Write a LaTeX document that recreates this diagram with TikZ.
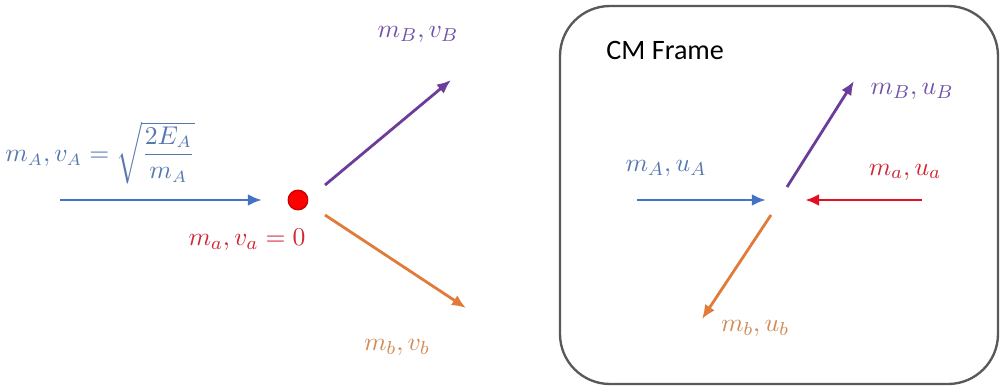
\documentclass[tikz,border=0pt]{standalone}
\usepackage{amsmath}
\usepackage{fontspec}
\newfontfamily\cmfont{Carlito}
\usetikzlibrary{arrows.meta}
\definecolor{cblue}{HTML}{4472C4}
\definecolor{cred}{HTML}{E01020}
\definecolor{cpurple}{HTML}{6A3D9A}
\definecolor{corange}{HTML}{E07B3A}
\definecolor{lblue}{HTML}{5677AE}
\definecolor{lred}{HTML}{D02535}
\definecolor{lpurple}{HTML}{7050A8}
\definecolor{lorange}{HTML}{D08A55}
\tikzset{
  vec/.style={line width=1.2pt,-{Latex[length=6pt,width=5pt]}},
  lbl/.style={inner sep=1pt,font=\fontsize{11.3}{13.6}\selectfont}
}
\begin{document}
\begin{tikzpicture}[x=0.015cm,y=-0.015cm]
\useasboundingbox (0,0) rectangle (1000,386);
% lab frame
\coordinate (bs) at (60,200);
\coordinate (be) at (262,200);
\node[circle,fill=red,draw=red!80!black,line width=0.6pt,minimum size=19.5*0.015cm,inner sep=0pt] (dot) at (298,200) {};
\coordinate (ps) at (325,185);
\coordinate (pe) at (451,80);
\coordinate (os) at (325,215);
\coordinate (oe) at (466,308);
\draw[vec,cblue] (bs) -- (be);
\draw[vec,cpurple] (ps) -- (pe);
\draw[vec,corange] (os) -- (oe);
\node[lbl,text=lblue,font=\fontsize{10.6}{12.7}\selectfont] (lA) at (100,153) {$m_A, v_A = \sqrt{\dfrac{2E_A}{m_A}}$};
\node[lbl,text=lred] (la) at (247,240) {$m_a, v_a = 0$};
\node[lbl,text=lpurple] (lB) at (418,34) {$m_B, v_B$};
\node[lbl,text=lorange] (lb) at (397,347) {$m_b, v_b$};
% CM frame
\node[draw=black!65,line width=1pt,rounded corners=50*0.015cm,minimum width=438*0.015cm,minimum height=378*0.015cm,inner sep=0pt] (frame) at (779,195) {};
\node[anchor=west,font=\cmfont\large,inner sep=0pt] (title) at (606,50) {CM Frame};
\coordinate (cbs) at (637,200);
\coordinate (cbe) at (766,200);
\coordinate (crs) at (922,200);
\coordinate (cre) at (805,200);
\coordinate (cps) at (787,187);
\coordinate (cpe) at (854,81);
\coordinate (cos) at (771,215);
\coordinate (coe) at (702,319);
\draw[vec,cblue] (cbs) -- (cbe);
\draw[vec,cred] (crs) -- (cre);
\draw[vec,cpurple] (cps) -- (cpe);
\draw[vec,corange] (cos) -- (coe);
\node[lbl,text=lblue] (cA) at (666,168) {$m_A, u_A$};
\node[lbl,text=lred] (ca) at (905,172) {$m_a, u_a$};
\node[lbl,text=lpurple] (cB) at (912,91) {$m_B, u_B$};
\node[lbl,text=lorange] (cb) at (755,328) {$m_b, u_b$};
\end{tikzpicture}
\end{document}
